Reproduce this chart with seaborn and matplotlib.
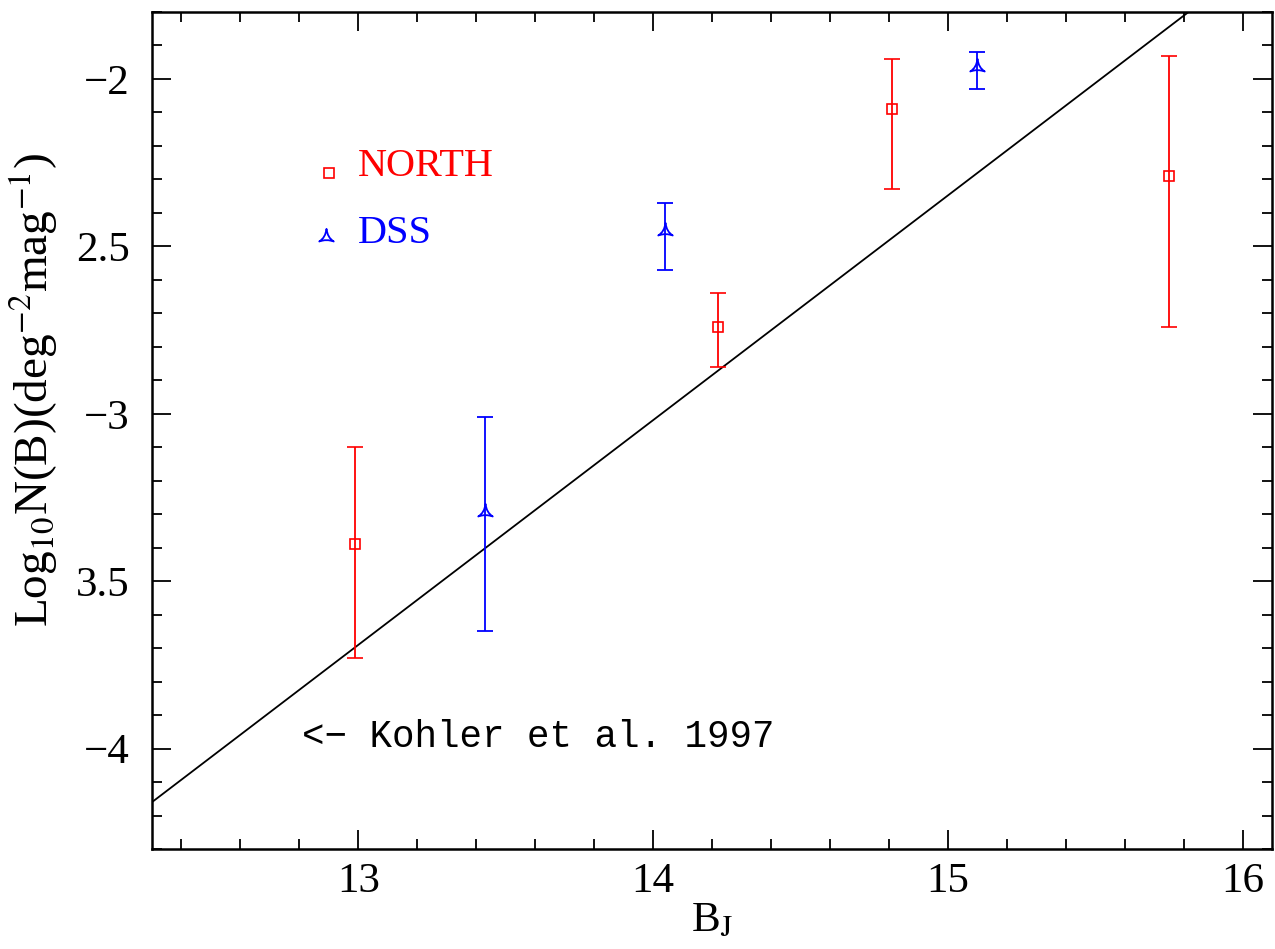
import numpy as np
import matplotlib
matplotlib.use("Agg")
import matplotlib.pyplot as plt
from matplotlib.path import Path
from matplotlib.ticker import MultipleLocator, FixedLocator, FixedFormatter
import seaborn as sns

# data
north_bj = [12.99, 14.22, 14.81, 15.75]
north_logn = [-3.39, -2.74, -2.09, -2.29]
north_lo = [-3.73, -2.86, -2.33, -2.74]
north_hi = [-3.10, -2.64, -1.94, -1.93]

dss_bj = [13.43, 14.04, 15.10]
dss_logn = [-3.29, -2.45, -1.96]
dss_lo = [-3.65, -2.57, -2.03]
dss_hi = [-3.01, -2.37, -1.92]

# Kohler et al. 1997 relation (end points)
kohler_bj = [12.30, 16.10]
kohler_logn = [-4.16, -1.61]

y_ticks = [-4.0, -3.5, -3.0, -2.5, -2.0]
y_ticklabels = ["\u22124", "3.5", "\u22123", "2.5", "\u22122"]
x_ticks = [13, 14, 15, 16]

sns.set_style("ticks")
plt.rcParams['font.family'] = ['Liberation Serif', 'DejaVu Serif']
plt.rcParams['mathtext.fontset'] = 'stix'
for k in ['text.color', 'axes.labelcolor', 'xtick.color', 'ytick.color']:
    plt.rcParams[k] = 'black'

# concave triangle marker like the pgplot symbol
tri_path = Path(
    [(0, 1), (0.12, -0.15), (0.95, -0.65), (0, -0.3), (-0.95, -0.65),
     (-0.12, -0.15), (0, 1), (0, 1)],
    [Path.MOVETO, Path.CURVE3, Path.CURVE3, Path.CURVE3, Path.CURVE3,
     Path.CURVE3, Path.CURVE3, Path.CLOSEPOLY])

fig = plt.figure(figsize=(12.75, 9.49), dpi=100)
ax = fig.add_axes([152 / 1275, 100 / 949, 1120 / 1275, 837 / 949])

# line
sns.lineplot(x=kohler_bj, y=kohler_logn, ax=ax, color='black', lw=1.3)

# NORTH
n_y = np.array(north_logn)
ax.errorbar(north_bj, n_y,
            yerr=[n_y - np.array(north_lo), np.array(north_hi) - n_y],
            fmt='s', ms=7.5, mfc='none', mec='red', mew=1.2,
            ecolor='red', elinewidth=1.3, capsize=6, capthick=1.3)

# DSS
d_y = np.array(dss_logn)
ax.errorbar(dss_bj, d_y,
            yerr=[d_y - np.array(dss_lo), np.array(dss_hi) - d_y],
            fmt='none', ecolor='blue', elinewidth=1.3, capsize=6, capthick=1.3)
ax.plot(dss_bj, d_y, ls='none', marker=tri_path, ms=11, mfc='none',
        mec='blue', mew=1.3)

# legend by hand
ax.plot([12.90], [-2.28], ls='none', marker='s', ms=7.5, mfc='none',
        mec='red', mew=1.2)
ax.plot([12.89], [-2.47], ls='none', marker=tri_path, ms=11, mfc='none',
        mec='blue', mew=1.3)
ax.text(13.0, -2.262, "NORTH", color='red', fontsize=29, va='center', ha='left')
ax.text(13.0, -2.462, "DSS", color='blue', fontsize=29, va='center', ha='left')

ax.text(12.81, -3.965, "<\u2212 Kohler et al. 1997", color='black', fontsize=27,
        family=['Liberation Mono', 'DejaVu Sans Mono'], va='center', ha='left')

ax.set_xlim(12.30, 16.10)
ax.set_ylim(-4.30, -1.80)
ax.xaxis.set_major_locator(FixedLocator(x_ticks))
ax.xaxis.set_minor_locator(MultipleLocator(0.2))
ax.yaxis.set_major_locator(FixedLocator(y_ticks))
ax.yaxis.set_major_formatter(FixedFormatter(y_ticklabels))
ax.yaxis.set_minor_locator(MultipleLocator(0.1))

ax.tick_params(which='both', direction='in', top=True, right=True,
               width=1.3, color='black')
ax.tick_params(which='major', length=14)
ax.tick_params(which='minor', length=7)
ax.tick_params(axis='x', labelsize=31, pad=10)
ax.tick_params(axis='y', labelsize=31, pad=16)
for s in ax.spines.values():
    s.set_linewidth(1.8)
    s.set_color('black')

ax.set_xlabel("B$_{\\mathrm{J}}$", fontsize=31, labelpad=0)
ax.set_ylabel("Log$_{10}$N(B)(deg$^{-2}$mag$^{-1}$)", fontsize=34)
ax.yaxis.set_label_coords(-0.082, 0.548)

fig.savefig("out.png", dpi=100)
